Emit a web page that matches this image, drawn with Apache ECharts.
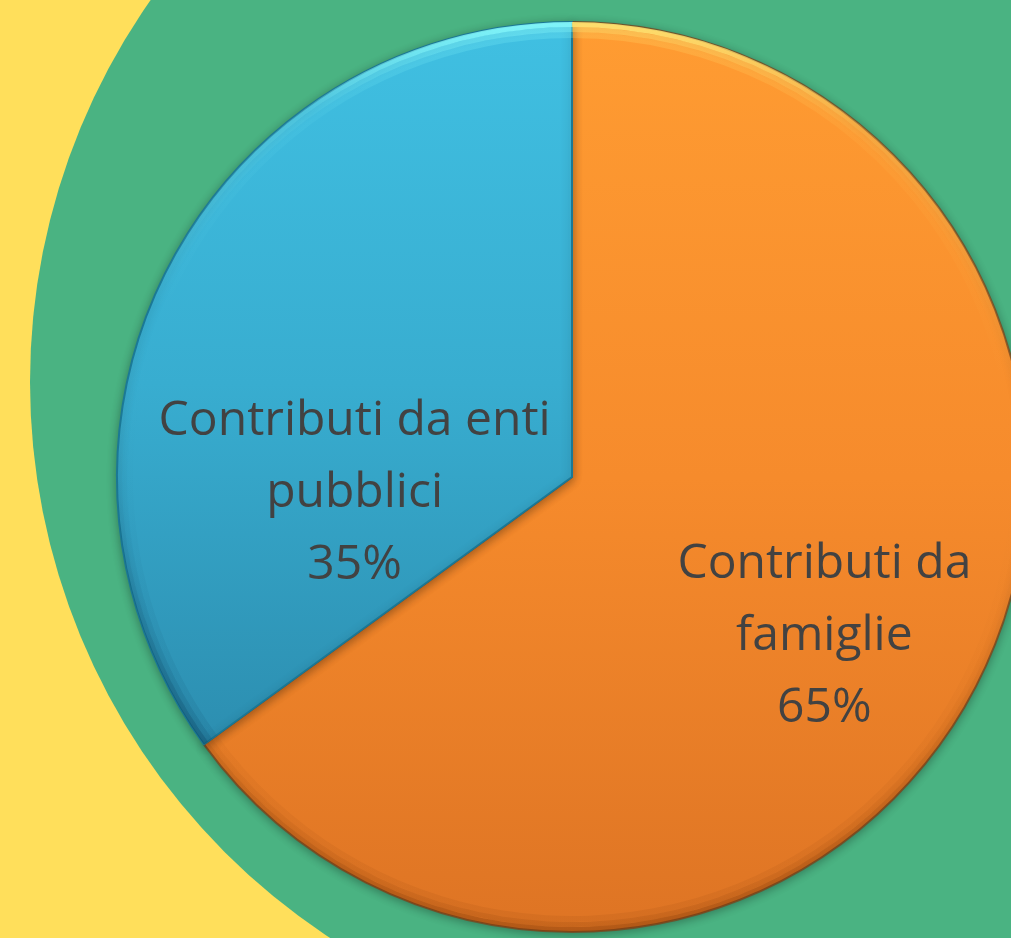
<!DOCTYPE html>
<html>
<head>
<meta charset="utf-8">
<script src="https://cdn.jsdelivr.net/npm/echarts@6/dist/echarts.min.js"></script>
<style>
html,body{margin:0;padding:0;background:#FFDF5B;}
#chart{width:1011px;height:938px;}
</style>
</head>
<body>
<div id="chart"></div>
<script>
const categories = ['Contributi da famiglie', 'Contributi da enti pubblici'];
const values = [65, 35];
const labelLines = ['Contributi da\nfamiglie', 'Contributi da enti\npubblici'];

const chart = echarts.init(document.getElementById('chart'));
const LG = echarts.graphic.LinearGradient;

const fills = [
  new LG(0, 0, 0, 1, [
    {offset: 0, color: '#FF9C32'},
    {offset: 0.5, color: '#F68B2C'},
    {offset: 1, color: '#DE7424'}
  ]),
  new LG(0, 0, 0, 1, [
    {offset: 0, color: '#40C0E2'},
    {offset: 0.5, color: '#38ADD0'},
    {offset: 1, color: '#2C8EB0'}
  ])
];
function rim(light, dark, k) {
  return new LG(0, 0, 0, 1, [
    {offset: 0, color: 'rgba(' + light + ',' + (0.85 * k) + ')'},
    {offset: 0.12, color: 'rgba(' + light + ',' + (0.25 * k) + ')'},
    {offset: 0.4, color: 'rgba(' + light + ',0)'},
    {offset: 0.7, color: 'rgba(' + dark + ',' + (0.08 * k) + ')'},
    {offset: 1, color: 'rgba(' + dark + ',' + (0.35 * k) + ')'}
  ]);
}
const borders = ['rgba(120,70,30,0.8)', '#1A7896'];
const offsets = [[47, 55], [-12, 121]];

const data = categories.map((c, i) => ({
  name: c,
  value: values[i],
  itemStyle: {color: fills[i], borderColor: borders[i], borderWidth: 2},
  label: {offset: offsets[i]}
}));
function rimData(k) {
  return categories.map((c, i) => ({
    name: c,
    value: values[i],
    itemStyle: {color: i === 0 ? rim('255,235,120', '110,45,0', k) : rim('140,255,255', '0,40,70', k)}
  }));
}

const center = [572, 477];
const R = 455;
const rimSeries = [[R - 5, R, 1], [R - 10, R - 5, 0.55], [R - 16, R - 10, 0.25]].map(r => ({
  type: 'pie',
  center: center,
  radius: [r[0], r[1]],
  startAngle: 90,
  clockwise: true,
  silent: true,
  z: 3,
  data: rimData(r[2]),
  label: {show: false},
  labelLine: {show: false},
  emphasis: {disabled: true}
}));

chart.setOption({
  backgroundColor: '#FFDF5B',
  animation: false,
  graphic: [{
    type: 'circle',
    z: -10,
    silent: true,
    shape: {cx: 695, cy: 382, r: 665},
    style: {fill: '#4AB382'}
  }],
  series: [{
    type: 'pie',
    center: center,
    radius: R,
    startAngle: 90,
    clockwise: true,
    data: data,
    z: 2,
    itemStyle: {
      shadowBlur: 10,
      shadowColor: 'rgba(0,0,0,0.3)',
      shadowOffsetY: 2
    },
    label: {
      show: true,
      position: 'inside',
      fontFamily: 'Open Sans',
      fontSize: 48,
      lineHeight: 72,
      color: '#424242',
      align: 'center',
      formatter: p => labelLines[p.dataIndex] + '\n' + p.percent.toFixed(0) + '%'
    },
    labelLine: {show: false},
    emphasis: {disabled: true}
  }].concat(rimSeries)
});
</script>
</body>
</html>
